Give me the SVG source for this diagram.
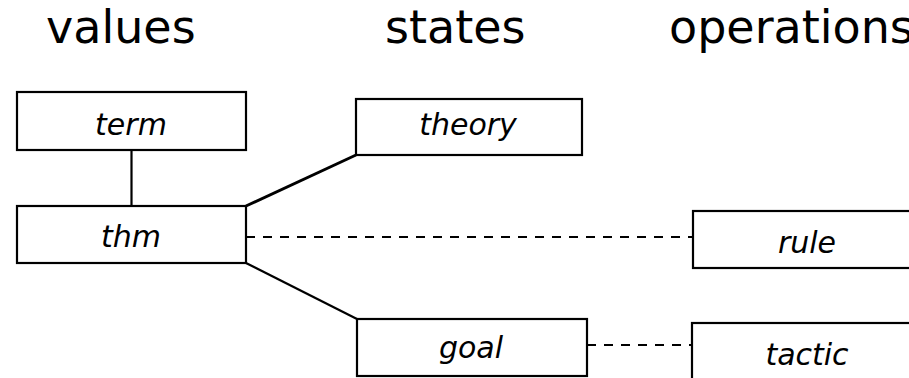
<svg xmlns="http://www.w3.org/2000/svg" width="909" height="378" viewBox="0 0 909 378">
<style>
.box{fill:#fff;stroke:#000;stroke-width:2.2}
.lbl{font-family:"DejaVu Sans",sans-serif;font-style:italic;font-size:30px;text-anchor:middle;fill:#000}
.hdr{font-family:"DejaVu Sans",sans-serif;font-size:46px;fill:#000}
.ln{stroke:#000;stroke-width:2.2;fill:none}
.dash{stroke:#000;stroke-width:2.2;stroke-dasharray:9 8;fill:none}
</style>
<rect width="909" height="378" fill="#fff"/>
<g id="headers">
<text class="hdr" x="46" y="43">values</text>
<text class="hdr" x="385" y="43">states</text>
<text class="hdr" x="669" y="43">operations</text>
</g>
<g id="connectors">
<line class="ln" x1="131.5" y1="150" x2="131.5" y2="206"/>
<line class="ln" x1="246" y1="206" x2="356" y2="155" style="stroke-width:3"/>
<line class="ln" x1="246" y1="263" x2="357" y2="319"/>
<line class="dash" x1="246" y1="237" x2="693" y2="237"/>
<line class="dash" x1="587" y1="345" x2="692" y2="345"/>
</g>
<g id="term"><rect class="box" x="17" y="92" width="229" height="58"/><text class="lbl" x="131" y="135">term</text></g>
<g id="thm"><rect class="box" x="17" y="206" width="229" height="57"/><text class="lbl" x="131" y="247">thm</text></g>
<g id="theory"><rect class="box" x="356" y="99" width="226" height="56"/><text class="lbl" x="468" y="135">theory</text></g>
<g id="goal"><rect class="box" x="357" y="319" width="230" height="57"/><text class="lbl" x="471" y="358">goal</text></g>
<g id="rule"><rect class="box" x="693" y="211" width="228" height="57"/><text class="lbl" x="807" y="253">rule</text></g>
<g id="tactic"><rect class="box" x="692" y="323" width="228" height="57"/><text class="lbl" x="807" y="365">tactic</text></g>
</svg>
